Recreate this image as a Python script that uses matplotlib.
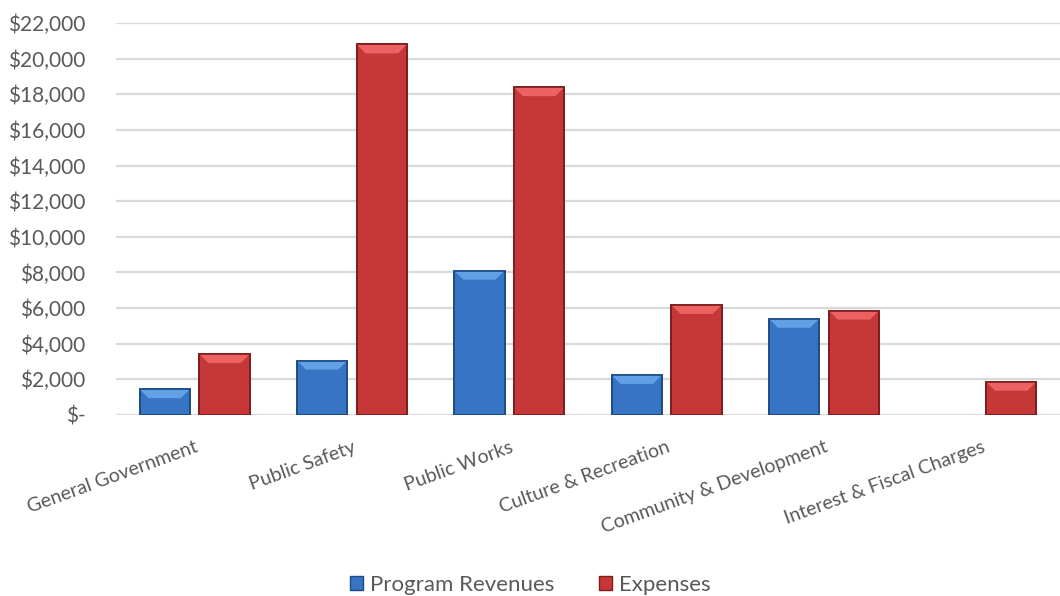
import numpy as np
import matplotlib.pyplot as plt
from matplotlib.patches import Polygon, Patch

categories = ['General Government', 'Public Safety', 'Public Works',
              'Culture & Recreation', 'Community & Development',
              'Interest & Fiscal Charges']
program_revenues = [1450, 3050, 8100, 2250, 5400, 0]
expenses = [3420, 20800, 18400, 6180, 5860, 1870]
yticks = [0, 2000, 4000, 6000, 8000, 10000, 12000, 14000, 16000, 18000, 20000, 22000]

plt.rcParams['font.family'] = ['Lato', 'DejaVu Sans']
text_color = '#595959'

# fill, light bevel, dark edge
blue = ('#3874c4', '#62a0e6', '#1d4a86')
red = ('#c63838', '#ec6262', '#7e1c1c')

fig = plt.figure(figsize=(10.6, 5.96), dpi=100)
ax = fig.add_axes([0.1094, 0.3037, 0.8906, 0.6577])

x = np.arange(len(categories))
w = 0.32
off = 0.19

lw_b = [1.2 if v > 0 else 0 for v in program_revenues]
lw_r = [1.2 if v > 0 else 0 for v in expenses]
bars_b = ax.bar(x - off, program_revenues, w, color=blue[0], edgecolor=blue[2], linewidth=lw_b, zorder=3)
bars_r = ax.bar(x + off, expenses, w, color=red[0], edgecolor=red[2], linewidth=lw_r, zorder=3)

ax.set_xlim(-0.5, len(categories) - 0.5)
ax.set_ylim(0, 22000)
fig.canvas.draw()

# bevel on top of each bar (depth in pixels)
depth_px = 9
inv = ax.transData.inverted()
for bars, cols in [(bars_b, blue), (bars_r, red)]:
    for b in bars:
        h = b.get_height()
        if h <= 0:
            continue
        x0 = b.get_x()
        x1 = x0 + b.get_width()
        p0 = ax.transData.transform((x0, h))
        p1 = ax.transData.transform((x1, h))
        d = min(depth_px, (p0[1] - ax.transData.transform((x0, 0))[1]) / 2)
        q0 = inv.transform((p0[0] + d, p0[1] - d))
        q1 = inv.transform((p1[0] - d, p1[1] - d))
        top = Polygon([(x0, h), (x1, h), (q1[0], q1[1]), (q0[0], q0[1])],
                      closed=True, facecolor=cols[1], edgecolor='none', zorder=4)
        ax.add_patch(top)
        rect = plt.Rectangle((x0, 0), b.get_width(), h, fill=False,
                             edgecolor=cols[2], linewidth=1.2, zorder=5)
        ax.add_patch(rect)

ax.set_yticks(yticks)
ax.set_yticklabels(['$-'] + [f'${v:,}' for v in yticks[1:]])
ax.yaxis.grid(True, color='#d9d9d9', linewidth=1.6, zorder=0)
ax.set_axisbelow(True)
for s in ax.spines.values():
    s.set_visible(False)
ax.tick_params(axis='y', length=0, pad=22, labelsize=15, labelcolor=text_color)

ax.set_xticks(x)
ax.set_xticklabels(categories, rotation=20, ha='right', va='top', rotation_mode='anchor')
ax.tick_params(axis='x', length=0, pad=17, labelsize=14, labelcolor=text_color)

handles = [Patch(facecolor=blue[0], edgecolor=blue[2], label='Program Revenues'),
           Patch(facecolor=red[0], edgecolor=red[2], label='Expenses')]
fig.legend(handles=handles, loc='lower center', ncol=2, frameon=False,
           bbox_to_anchor=(0.5, -0.032), fontsize=16, labelcolor=text_color,
           handlelength=0.6, handleheight=0.6, handletextpad=0.3, columnspacing=2.0)

fig.savefig('out.png', dpi=100)
